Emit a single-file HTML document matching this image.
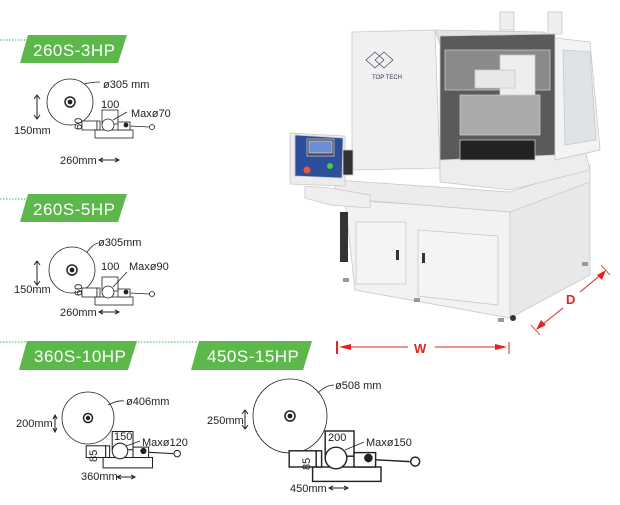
<!DOCTYPE html>
<html><head><meta charset="utf-8"><style>
html,body{margin:0;padding:0;background:#fff;}
svg{display:block;font-family:"Liberation Sans",sans-serif;}
</style></head><body>
<svg width="620" height="505" viewBox="0 0 620 505" xmlns="http://www.w3.org/2000/svg">
<defs>
<g id="vice" fill="#fff" stroke="#222" stroke-width="0.8">
  <rect x="-26" y="-4" width="15" height="9"/>
  <rect x="-6" y="-15" width="16" height="14"/>
  <rect x="-13" y="5" width="38" height="8"/>
  <rect x="-11" y="-4" width="3" height="9"/>
  <rect x="10" y="-3" width="12" height="8"/>
  <circle cx="0" cy="0" r="6"/>
  <line x1="22" y1="1" x2="41" y2="2"/>
  <circle cx="44" cy="2" r="2.5"/>
  <circle cx="18" cy="0" r="2" fill="#222"/>
</g>
</defs>

<g stroke="#4caf50" stroke-width="1" stroke-dasharray="1.5,1.5">
<line x1="0" y1="40" x2="26" y2="40"/>
<line x1="0" y1="199" x2="26" y2="199"/>
<line x1="0" y1="342" x2="26" y2="342"/>
<line x1="138" y1="342" x2="198" y2="342"/>
</g>
<g fill="#5cb84a">
<polygon points="28,35 127,35 118,63 20,63"/>
<polygon points="28,194 127,194 118,222 20,222"/>
<polygon points="27,341 137,341 128,370 19,370"/>
<polygon points="199,341 312,341 303,370 191,370"/>
</g>
<g fill="#fff" font-size="17" letter-spacing="0.5">
<text x="33" y="56">260S-3HP</text>
<text x="33" y="215">260S-5HP</text>
<text x="34" y="362">360S-10HP</text>
<text x="207" y="362">450S-15HP</text>
</g>

<g fill="none" stroke="#222" stroke-width="0.8">
<circle cx="70" cy="102" r="23"/>
<circle cx="70" cy="102" r="5" stroke-width="1.5"/><circle cx="70" cy="102" r="2" fill="#222"/>
<path d="M84 84 Q92 82 100 82"/>
<circle cx="72" cy="270" r="23"/>
<circle cx="72" cy="270" r="5" stroke-width="1.5"/><circle cx="72" cy="270" r="2" fill="#222"/>
<path d="M87 252 Q93 244 98 243"/>
<circle cx="88" cy="418" r="26"/>
<circle cx="88" cy="418" r="4.5" stroke-width="1.5"/><circle cx="88" cy="418" r="1.8" fill="#222"/>
<path d="M108 405 Q118 400 124 401"/>
<circle cx="290" cy="416" r="37"/>
<circle cx="290" cy="416" r="5" stroke-width="1.5"/><circle cx="290" cy="416" r="2" fill="#222"/>
<path d="M318 393 Q326 385 334 385"/>
</g>
<use href="#vice" transform="translate(108,125)"/>
<use href="#vice" transform="translate(108,292)"/>
<use href="#vice" transform="translate(120,451) scale(1.3)"/>
<use href="#vice" transform="translate(336,458) scale(1.8)"/>
<g fill="none" stroke="#222" stroke-width="0.8">
<line x1="113" y1="120" x2="127" y2="112"/>
<line x1="113" y1="287" x2="127" y2="272"/>
<line x1="126" y1="446" x2="140" y2="441"/>
<line x1="345" y1="450" x2="364" y2="442"/>
</g>
<g stroke="#222" stroke-width="1" fill="none">
<path d="M37 96 V118 M34 99 L37 95 L40 99 M34 115 L37 119 L40 115"/>
<path d="M37 262 V284 M34 265 L37 261 L40 265 M34 281 L37 285 L40 281"/>
<path d="M55 416 V431 M53 419 L55 415 L57 419 M53 428 L55 432 L57 428"/>
<path d="M245 411 V428 M242 414 L245 410 L248 414 M242 425 L245 429 L248 425"/>
<path d="M100 160 H118 M103 158 L99 160 L103 162 M115 158 L119 160 L115 162"/>
<path d="M100 312 H118 M103 310 L99 312 L103 314 M115 310 L119 312 L115 314"/>
<path d="M118 477 H134 M121 475 L117 477 L121 479 M131 475 L135 477 L131 479"/>
<path d="M330 488 H347 M333 486 L329 488 L333 490 M344 486 L348 488 L344 490"/>
</g>
<g fill="#222" font-size="11">
<text x="103" y="88">ø305 mm</text>
<text x="101" y="108">100</text>
<text x="131" y="117">Maxø70</text>
<text x="14" y="134">150mm</text>
<text x="60" y="164">260mm</text>
<text transform="translate(82,130) rotate(-90)">60</text>
<text x="98" y="246">ø305mm</text>
<text x="101" y="270">100</text>
<text x="129" y="270">Maxø90</text>
<text x="14" y="293">150mm</text>
<text x="60" y="316">260mm</text>
<text transform="translate(82,296) rotate(-90)">60</text>
<text x="126" y="405">ø406mm</text>
<text x="114" y="440">150</text>
<text x="142" y="446">Maxø120</text>
<text x="16" y="427">200mm</text>
<text x="81" y="480">360mm</text>
<text transform="translate(97,462) rotate(-90)">85</text>
<text x="335" y="389">ø508 mm</text>
<text x="328" y="441">200</text>
<text x="366" y="446">Maxø150</text>
<text x="207" y="424">250mm</text>
<text x="290" y="492">450mm</text>
<text transform="translate(310,470) rotate(-90)">85</text>
</g>

<g stroke="#c8c8c8" stroke-width="0.8">
<polygon points="345,200 510,210 510,318 355,290" fill="#f2f2f2"/>
<polygon points="510,210 590,180 590,275 510,318" fill="#e8e8e8"/>
<polygon points="335,180 510,192 590,165 590,182 510,212 335,198" fill="#ececec"/>
<rect x="356" y="222" width="50" height="62" fill="#f4f4f4"/>
<polygon points="418,230 498,236 498,305 418,296" fill="#f4f4f4"/>
<polygon points="352,32 435,30 440,168 352,170" fill="#f0f0f0"/>
<polygon points="435,30 545,32 550,40 440,45" fill="#e4e4e4"/>
<polygon points="440,36 555,34 555,165 440,170" fill="#5a5a5a"/>
<rect x="445" y="50" width="105" height="40" fill="#8a8a8a"/>
<rect x="460" y="95" width="80" height="40" fill="#aaa"/>
<polygon points="440,160 555,155 585,150 590,170 510,190 440,182" fill="#ededed"/>
<polygon points="555,38 590,42 600,150 555,160" fill="#f3f3f3"/>
<polygon points="563,50 590,52 596,140 565,145" fill="#dfe3e6"/>
<rect x="500" y="55" width="35" height="40" fill="#eee"/>
<rect x="475" y="70" width="40" height="18" fill="#e8e8e8"/>
<rect x="460" y="140" width="75" height="20" fill="#222"/>
<rect x="500" y="12" width="14" height="18" fill="#eee"/>
<rect x="548" y="12" width="14" height="22" fill="#eee"/>
<polygon points="290,133 345,136 345,186 290,184" fill="#ecebee"/>
<polygon points="295,135 343,138 342,178 295,176" fill="#2d4e9a"/>
<rect x="307" y="139" width="27" height="17" fill="#444"/>
<rect x="309" y="141" width="23" height="12" fill="#6b8ed6"/>
<polygon points="305,186 330,188 370,195 370,208 330,205 305,198" fill="#efefef"/>
<rect x="343" y="150" width="10" height="25" fill="#333"/>
</g>
<circle cx="307" cy="170" r="3.5" fill="#e53"/>
<circle cx="330" cy="166" r="3" fill="#4c4"/>
<g fill="#333">
<rect x="396" y="250" width="3" height="10"/>
<rect x="422" y="253" width="3" height="10"/>
<rect x="340" y="212" width="8" height="50"/>
</g>
<g fill="#999">
<rect x="343" y="278" width="6" height="4"/><rect x="414" y="298" width="6" height="4"/>
<rect x="498" y="318" width="6" height="4"/><rect x="582" y="262" width="6" height="4"/>
</g>
<circle cx="513" cy="318" r="3" fill="#333"/>
<text x="372" y="79" font-size="6" fill="#335">TOP TECH</text>
<path d="M366 60 L375 52 L384 60 L375 68Z M375 60 L384 52 L393 60 L384 68Z" fill="none" stroke="#335" stroke-width="0.6"/>

<g stroke="#e52222" fill="#e52222">
<line x1="337" y1="341" x2="337" y2="354" stroke-width="2"/>
<line x1="509" y1="342" x2="509" y2="354" stroke-width="1"/>
<line x1="344" y1="347" x2="408" y2="347" stroke-width="1"/>
<line x1="435" y1="347" x2="500" y2="347" stroke-width="1"/>
<polygon points="339,347 351,344 351,350" stroke="none"/>
<polygon points="507,347 495,344 495,350" stroke="none"/>
<line x1="563" y1="308" x2="538" y2="328" stroke-width="1"/>
<line x1="580" y1="292" x2="603" y2="273" stroke-width="1"/>
<line x1="531" y1="325" x2="540" y2="335" stroke-width="0.8"/>
<line x1="601" y1="265" x2="610" y2="275" stroke-width="0.8"/>
<polygon points="536,330 541,320 546,325" stroke="none"/>
<polygon points="606,270 597,275 602,280" stroke="none"/>
</g>
<text x="414" y="353" font-size="13" fill="#e52222" font-weight="bold">W</text>
<text x="566" y="304" font-size="13" fill="#e52222" font-weight="bold">D</text>
</svg>
</body></html>
